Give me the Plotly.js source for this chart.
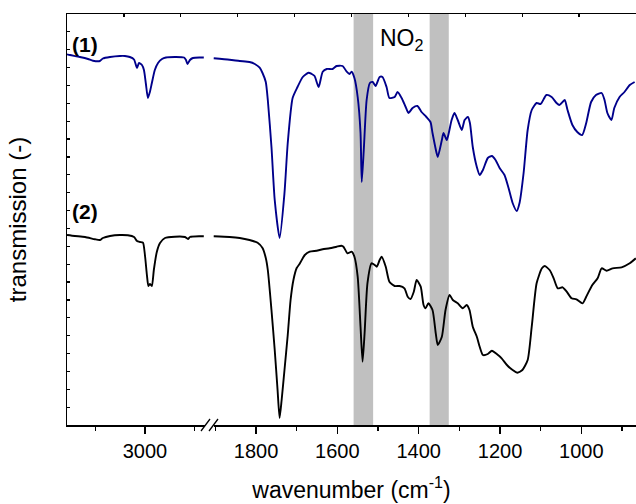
<!DOCTYPE html>
<html>
<head>
<meta charset="utf-8">
<script src="https://cdn.plot.ly/plotly-3.0.1.min.js"></script>
<style>html,body{margin:0;padding:0;background:#fff;}#chart{width:636px;height:504px;}</style>
</head>
<body>
<div id="chart"></div>
<script>
// Spectrum (1), high-wavenumber segment
var wn1L = [3315,3303,3263,3230,3210,3182,3170,3141,3101,3081,3061,3044,3032,3024,3012,3004,2996,2988,2980,2972,2960,2947,2931,2915,2879,2842,2834,2828,2818,2806,2778,2762];
var t1L = [370.7,370,368,366,364.3,364,366.5,368,369,369,368,365.5,357,362,360,355,341,327,333,342,355,362,366,367.5,368,367.5,365,361,365,367,367.5,367.5];
// Spectrum (1), fingerprint segment
var wn1R = [1904,1865,1840,1816,1803,1791,1784,1776,1771,1762,1754,1742,1730,1722,1710,1698,1685,1671,1663,1656,1646,1636,1626,1612,1602,1587,1577,1570,1565,1558,1550,1543,1540,1535,1528,1520,1513,1506,1496,1489,1479,1472,1459,1452,1442,1432,1425,1415,1403,1393,1381,1371,1366,1356,1353,1343,1339,1331,1326,1319,1312,1304,1294,1287,1279,1274,1267,1257,1250,1242,1230,1220,1211,1201,1189,1179,1169,1159,1152,1142,1132,1122,1110,1100,1086,1073,1061,1054,1041,1034,1022,1010,998,988,976,964,950,943,936,926,919,906,894,881,869];
var t1R = [366.7,365.3,364,363,361,357.3,352,343,325,278,225,187,232,282,327,338,348,352.3,351,349,338,353.3,356,356,359,359,353.3,351,353.3,347,328,292,243,275,325,342,343,339,348,348,338,327,328,333,327,318,312,317,319,313,308,303,292,272,268,285,292,285,292,305,312,305,295,305,308,302,278,258,250,255,267,269,265,257,250,237,222,214,222,252,295,315,322,321,330,328,322,320,325,315,300,293,290,302,323,330,332,325,312,305,317,328,333,340,343];
// Spectrum (2), high-wavenumber segment
var wn2L = [3315,3283,3242,3202,3182,3170,3141,3101,3069,3044,3032,3020,3008,3000,2992,2986,2980,2972,2964,2952,2939,2919,2879,2838,2826,2818,2778,2762];
var t2L = [190,189,188,185.7,185,187,189,190,189.7,188,184,183,182.3,170,150,139,141,139,155,173,182,187,188.3,188,186,188,188.7,188.7];
// Spectrum (2), fingerprint segment
var wn2R = [1904,1865,1840,1816,1796,1784,1776,1771,1762,1754,1747,1742,1737,1730,1722,1715,1708,1700,1693,1680,1668,1651,1636,1619,1602,1590,1585,1575,1565,1558,1550,1543,1538,1533,1526,1516,1508,1503,1496,1491,1481,1472,1459,1447,1435,1427,1420,1412,1405,1395,1388,1383,1376,1366,1358,1353,1343,1334,1324,1316,1304,1292,1282,1275,1267,1257,1250,1242,1230,1220,1208,1196,1183,1169,1157,1145,1132,1122,1110,1097,1090,1078,1068,1058,1046,1036,1024,1012,997,988,973,960,950,938,923,901,881,866];
var t2R = [188.7,188,187,185,182.3,177,167,155,115,75,35,7,25,55,90,125,145,157,161,170,173.3,174.3,175.7,176.7,178.3,179.3,178.3,171.7,173.3,168.3,148.3,98.3,63.3,91.7,141.7,161.7,160,158.3,165,168.3,158.3,143.3,139,139,136.7,128.3,126,133.3,145,138.3,120,116.7,121.7,115,91.7,80,88.3,115,130,125,121.7,116.7,120,115,98.3,88.3,78.3,70,71,74.3,71,66.7,60,55,52.3,55,65,98.3,141.7,156.7,159,155,146.7,136.7,137.7,133.3,126.7,125.7,121.7,128.3,140,146.7,156.7,154.3,156.7,157.7,161.7,166.7];
// NO2 bands (cm-1)
var bandStart = [1560, 1373];
var bandEnd = [1512, 1326];
var seriesLabels = ["(1)", "(2)"];
var colors = ["#00008b", "#000000"];

var FONT = "Liberation Sans, Arial, Helvetica, sans-serif";
var lineCommon = {mode: "lines", hoverinfo: "skip", showlegend: false};
function tr(x, y, xa, c) {
  return Object.assign({x: x, y: y, xaxis: xa, yaxis: "y", line: {color: c, width: 1.9, shape: "spline", smoothing: 0.6}}, lineCommon);
}
var data = [
  tr(wn1L, t1L, "x", colors[0]),
  tr(wn1R, t1R, "x2", colors[0]),
  tr(wn2L, t2L, "x", colors[1]),
  tr(wn2R, t2R, "x2", colors[1]),
  {x: [], y: [], xaxis: "x3", yaxis: "y", mode: "lines", showlegend: false, hoverinfo: "skip"},
  {x: [], y: [], xaxis: "x4", yaxis: "y", mode: "lines", showlegend: false, hoverinfo: "skip"}
];

var shapes = [];
for (var i = 0; i < bandStart.length; i++) {
  shapes.push({type: "rect", xref: "x2", yref: "paper", x0: bandStart[i], x1: bandEnd[i], y0: 0, y1: 1,
    fillcolor: "#c0c0c0", line: {width: 0}, layer: "below"});
}
// axis-break marks
function px(v) { return (v - 67) / 569; }
function py(v) { return (425 - v) / 411; }
shapes.push({type: "rect", xref: "paper", yref: "paper", x0: px(205), x1: px(214), y0: py(427), y1: py(423),
  fillcolor: "#ffffff", line: {width: 0}, layer: "above"});
shapes.push({type: "line", xref: "paper", yref: "paper", x0: px(201), y0: py(431), x1: px(210), y1: py(419), line: {color: "#000", width: 1.3}});
shapes.push({type: "line", xref: "paper", yref: "paper", x0: px(209), y0: py(431), x1: px(218), y1: py(419), line: {color: "#000", width: 1.3}});

var tickFont = {family: FONT, size: 20, color: "#000"};
var layout = {
  width: 636, height: 504,
  margin: {l: 67, r: 0, t: 14, b: 79},
  paper_bgcolor: "#fff", plot_bgcolor: "rgba(0,0,0,0)",
  font: {family: FONT, color: "#000"},
  showlegend: false,
  xaxis: {domain: [0, 0.25], range: [3315, 2740], anchor: "y", showgrid: false, zeroline: false,
    showline: true, linecolor: "#000", linewidth: 1.5, ticks: "outside", ticklen: 7, tickwidth: 1.5, tickcolor: "#000",
    tick0: 3000, dtick: 400, tickfont: tickFont,
    minor: {dtick: 200, tick0: 3000, ticks: "outside", ticklen: 4, tickwidth: 1.5, tickcolor: "#000", showgrid: false}},
  xaxis2: {domain: [0.25, 1], range: [1915, 865.6], anchor: "y", showgrid: false, zeroline: false,
    showline: true, linecolor: "#000", linewidth: 1.5, ticks: "outside", ticklen: 7, tickwidth: 1.5, tickcolor: "#000",
    tick0: 1000, dtick: 200, tickfont: tickFont,
    minor: {dtick: 100, tick0: 1000, ticks: "outside", ticklen: 4, tickwidth: 1.5, tickcolor: "#000", showgrid: false}},
  xaxis3: {domain: [0, 1], range: [0, 10], anchor: "y", side: "top", showgrid: false, zeroline: false,
    showline: true, linecolor: "#000", linewidth: 1.5, ticks: "inside", ticklen: 3, tickwidth: 1.2, tickcolor: "#000",
    dtick: 1, tick0: 0, showticklabels: false},
  xaxis4: {domain: [0, 1], range: [0, 1], anchor: "y", side: "bottom", showgrid: false, zeroline: false,
    showline: false, ticks: "", showticklabels: false,
    title: {text: "wavenumber (cm<sup>-1</sup>)", font: {family: FONT, size: 23, color: "#000"}, standoff: 56}},
  yaxis: {range: [0, 411], showgrid: false, zeroline: false, showline: true, linecolor: "#000", linewidth: 1.5,
    ticks: "inside", ticklen: 3, tickwidth: 1.2, tickcolor: "#000", tick0: 0, dtick: 411 / 23, showticklabels: false,
    title: {text: "transmission (-)", font: {family: FONT, size: 24, color: "#000"}, standoff: 32}},
  shapes: shapes,
  annotations: [
    {xref: "paper", yref: "paper", x: px(70), y: py(44), xanchor: "left", yanchor: "middle", text: "<b>" + seriesLabels[0] + "</b>",
      showarrow: false, font: {family: FONT, size: 21, color: "#000"}},
    {xref: "paper", yref: "paper", x: px(70), y: py(211), xanchor: "left", yanchor: "middle", text: "<b>" + seriesLabels[1] + "</b>",
      showarrow: false, font: {family: FONT, size: 21, color: "#000"}},
    {xref: "paper", yref: "paper", x: px(378), y: py(39), xanchor: "left", yanchor: "middle", text: "NO<sub>2</sub>",
      showarrow: false, font: {family: FONT, size: 23, color: "#000"}}
  ]
};
Plotly.newPlot("chart", data, layout, {staticPlot: true, displayModeBar: false});
</script>
</body>
</html>
